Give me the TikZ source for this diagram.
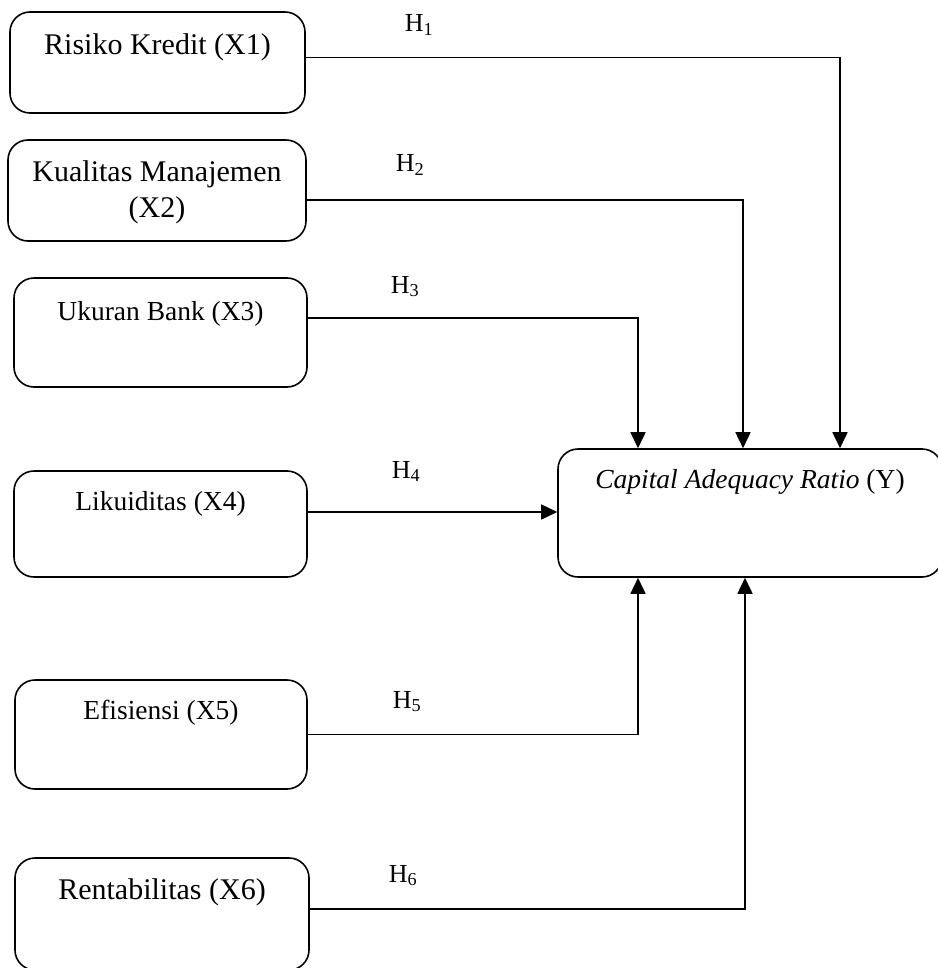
\documentclass[tikz,border=0pt]{standalone}
\usepackage{fontspec}
\setmainfont{Liberation Serif}
\usetikzlibrary{arrows.meta,positioning}
\tikzset{>={Triangle[width=15pt,length=16pt]}}
\tikzset{
  kotak/.style={draw, line width=1.6pt, rounded corners=20pt, inner sep=0pt},
  teks/.style={font=\fontsize{30}{36}\selectfont, inner sep=0pt, anchor=base, align=center},
  kecil/.style={font=\fontsize{27.5}{33}\selectfont},
  hipo/.style={font=\fontsize{26}{30}\selectfont, inner sep=0pt, anchor=base},
  garis/.style={line width=1.7pt}
}

\begin{document}
\begin{tikzpicture}[x=1pt, y=-1pt]

  \useasboundingbox (0,0) rectangle (937,968);

  %% <variabel bebas>
  \node[kotak, minimum width=295pt, minimum height=101pt,
    label={[teks, yshift=-43pt]north:Risiko Kredit (X1)}] (x1) at (157.5,62.5) {};
  \node[kotak, minimum width=298pt, minimum height=101pt,
    label={[teks, yshift=-78pt]north:Kualitas Manajemen\\(X2)}] (x2) at (157,190.5) {};
  \node[kotak, minimum width=293pt, minimum height=109pt,
    label={[teks, kecil, yshift=-43pt]north:Ukuran Bank (X3)}] (x3) at (160.5,332.5) {};
  \node[kotak, minimum width=293pt, minimum height=106pt,
    label={[teks, kecil, yshift=-40pt]north:Likuiditas (X4)}] (x4) at (160.5,524) {};
  \node[kotak, minimum width=292pt, minimum height=109pt,
    label={[teks, kecil, yshift=-40pt]north:Efisiensi (X5)}] (x5) at (161,734.5) {};
  \node[kotak, minimum width=294pt, minimum height=112pt,
    label={[teks, yshift=-42pt]north:Rentabilitas (X6)}] (x6) at (162,914) {};
  % </variabel bebas>

  %% variabel terikat
  \node[kotak, minimum width=384pt, minimum height=128pt,
    label={[teks, kecil, yshift=-40pt]north:\textit{Capital Adequacy Ratio} (Y)}] (y) at (750,513) {};

  \draw[garis, ->] ([yshift=5pt]x1.east) -| ([xshift=90pt]y.north); %% X1->Y
  \draw[garis, ->] ([yshift=-9.5pt]x2.east) -| ([xshift=-7pt]y.north); %% X2->Y
  \draw[garis, ->] ([yshift=14.5pt]x3.east) -| ([xshift=-112pt]y.north); %% X3->Y
  \draw[garis, ->] ([yshift=12pt]x4.east) -- ([yshift=12pt]x4.east -| y.west); %% X4->Y
  \draw[garis, ->] (x5.east) -| ([xshift=-112pt]y.south); %% X5->Y
  \draw[garis, ->] ([yshift=5pt]x6.east) -| ([xshift=-5pt]y.south); %% X6->Y

  \node[hipo] (h1) at (419,32) {H\textsubscript{1}};
  \node[hipo] (h2) at (410,172) {H\textsubscript{2}};
  \node[hipo] (h3) at (405,293) {H\textsubscript{3}};
  \node[hipo] (h4) at (406,478) {H\textsubscript{4}};
  \node[hipo] (h5) at (407,708) {H\textsubscript{5}};
  \node[hipo] (h6) at (403,882) {H\textsubscript{6}};

\end{tikzpicture}
\end{document}
